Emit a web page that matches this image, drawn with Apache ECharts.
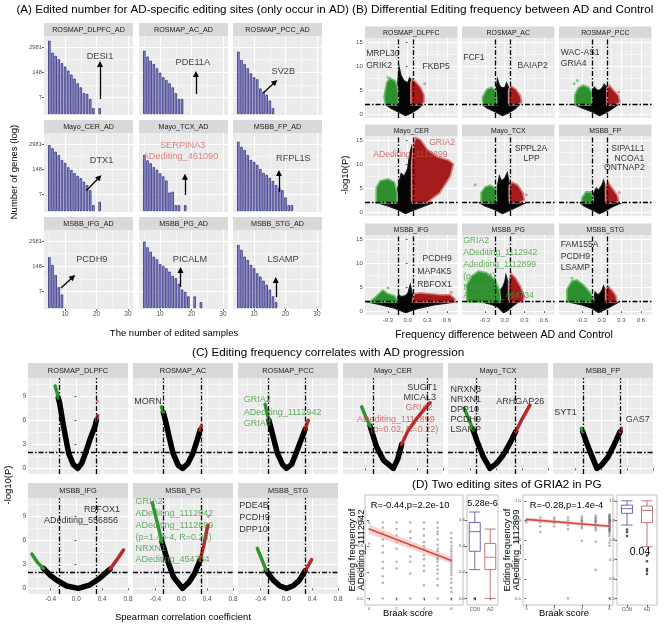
<!DOCTYPE html>
<html><head><meta charset="utf-8">
<script src="https://cdn.jsdelivr.net/npm/echarts@6/dist/echarts.min.js"></script>
<style>html,body{margin:0;padding:0;background:#fff;}#chart{width:666px;height:627px;}</style>
</head><body><div id="chart"></div>
<script>
// ======================= DATA =======================
// ---- Panel A: AD-specific editing sites, [number of edited samples, number of genes]
const aNames = ['ROSMAP_DLPFC_AD','ROSMAP_AC_AD','ROSMAP_PCC_AD','Mayo_CER_AD','Mayo_TCX_AD','MSBB_FP_AD','MSBB_IFG_AD','MSBB_PG_AD','MSBB_STG_AD'];
const aDLPFC = [[5,6300],[6,1500],[7,1030],[8,690],[9,430],[10,285],[11,177],[12,110],[13,68],[14,39],[15,24],[16,12],[17,11],[18,6],[19,2],[21,2]];
const aAC = [[5,1900],[6,940],[7,580],[8,390],[9,235],[10,138],[11,80],[12,58],[13,39],[14,24],[15,12],[16,6],[17,6]];
const aPCC = [[5,1700],[6,630],[7,390],[8,235],[9,128],[10,80],[11,63],[12,21],[13,14],[14,10],[15,5],[16,2]];
const aCER = [[5,2600],[6,1780],[7,1180],[8,790],[9,440],[10,310],[11,185],[12,135],[13,91],[14,66],[15,50],[16,33],[17,22],[18,12],[19,2],[21,3]];
const aTCX = [[5,800],[6,420],[7,300],[8,190],[9,140],[10,90],[11,62],[12,38],[13,9],[14,10],[15,2],[16,2],[18,2]];
const aFP = [[5,3900],[6,2100],[7,1450],[8,800],[9,440],[10,350],[11,245],[12,150],[13,94],[14,74],[15,52],[16,36],[17,22],[18,16],[19,12],[20,5],[21,2],[22,2]];
const aIFG = [[5,430],[6,170],[7,51],[8,12],[9,5]];
const aPG = [[5,2740],[6,1400],[7,830],[8,460],[9,335],[10,192],[11,150],[12,115],[13,77],[14,46],[15,35],[16,18],[17,9],[18,7],[19,4],[21,4],[23,2]];
const aSTG = [[5,1860],[6,1030],[7,460],[8,310],[9,170],[10,115],[11,63],[12,42],[13,26],[14,16],[15,9],[16,4],[17,2]];
const aYTicks = [7, 148, 2981];
const aXTicks = [10, 20, 30];
const aGene = ['DESI1','PDE11A','SV2B','DTX1','SERPINA3','RFPL1S','PCDH9','PICALM','LSAMP'];
const aGeneAt = [[21.1,935],[20.4,497],[19.3,156],[21.6,442],[17.2,2650],[22.5,500],[18.5,336],[19.5,336],[19.2,336]];
const aSiteLabel = ['', '', '', '', 'ADediting_461090', '', '', '', ''];
const aSiteAt = [null, null, null, null, [16.5,700], null, null, null, null];
const aArrowFrom = [[21.1,6],[21.4,11],[12.9,12.3],[16.7,11.3],[17.9,6.8],[17.9,9.7],[8.7,11],[16.5,12.4],[16.9,3.7]];
const aArrowTo = [[21.1,392],[21.4,119],[16.7,46],[20.9,56],[17.9,60],[17.9,94],[12.5,40.6],[16.5,94],[16.9,28.5]];

// ---- Panel B: volcano clouds (outlines), [frequency difference, -log10(P)]
const regionNames = ['ROSMAP_DLPFC','ROSMAP_AC','ROSMAP_PCC','Mayo_CER','Mayo_TCX','MSBB_FP','MSBB_IFG','MSBB_PG','MSBB_STG'];
const bGreenDLPFC = [[-0.34,1.9],[-0.36,3.5],[-0.32,6.6],[-0.27,7.5],[-0.19,6.9],[-0.155,5.6],[-0.14,3.5],[-0.15,1.9]];
const bBlackDLPFC = [[-0.03,-0.3],[-0.15,0.5],[-0.25,1.2],[-0.33,1.9],[-0.15,2.2],[-0.15,6.5],[-0.13,9.8],[-0.1,8.0],[-0.06,7.0],[0.0,6.5],[0.03,7.5],[0.06,7.0],[0.05,3.0],[0.12,2.2],[0.22,1.9],[0.15,1.0],[0.05,0.2]];
const bRedDLPFC = [[0.05,1.9],[0.05,6.5],[0.07,7.3],[0.13,6.6],[0.2,5.5],[0.25,4.0],[0.25,2.5],[0.2,1.9]];
const bGreenAC = [[-0.33,1.9],[-0.34,3.5],[-0.27,5.2],[-0.2,5.6],[-0.13,4.8],[-0.12,1.9]];
const bBlackAC = [[-0.03,-0.3],[-0.15,0.5],[-0.27,1.3],[-0.33,1.9],[-0.13,2.3],[-0.13,5.0],[-0.11,7.3],[-0.08,6.0],[-0.05,5.5],[0.0,5.5],[0.03,6.5],[0.06,5.5],[0.07,3.0],[0.14,2.2],[0.22,1.9],[0.15,1.0],[0.05,0.2]];
const bRedAC = [[0.06,1.9],[0.06,5.0],[0.1,5.8],[0.17,5.2],[0.24,3.8],[0.26,2.5],[0.2,1.9]];
const bGreenPCC = [[-0.41,1.9],[-0.41,4.0],[-0.36,5.4],[-0.28,6.0],[-0.2,5.6],[-0.15,4.5],[-0.15,1.9]];
const bBlackPCC = [[-0.03,-0.3],[-0.15,0.5],[-0.3,1.3],[-0.4,1.9],[-0.15,2.3],[-0.14,5.0],[-0.11,5.6],[-0.07,5.0],[-0.03,5.0],[0.0,5.3],[0.04,6.2],[0.08,5.6],[0.08,3.0],[0.14,2.2],[0.24,1.9],[0.15,1.0],[0.05,0.2]];
const bRedPCC = [[0.08,1.9],[0.08,5.4],[0.12,6.0],[0.18,5.0],[0.26,3.8],[0.28,2.5],[0.2,1.9]];
const bGreenCER = [[-0.48,1.9],[-0.48,5.0],[-0.42,6.5],[-0.3,6.9],[-0.2,6.2],[-0.16,4.0],[-0.16,1.9]];
const bBlackCER = [[-0.03,-0.3],[-0.15,0.5],[-0.3,1.3],[-0.45,1.9],[-0.16,2.3],[-0.15,5.0],[-0.1,8.0],[-0.05,7.5],[0.0,9.0],[0.03,12.0],[0.06,13.5],[0.07,10.0],[0.06,2.5],[0.15,2.1],[0.35,1.8],[0.2,1.0],[0.05,0.2]];
const bRedCER = [[0.06,1.9],[0.06,10.0],[0.09,14.0],[0.12,15.5],[0.2,15.0],[0.3,13.0],[0.45,11.5],[0.62,10.8],[0.7,10.0],[0.65,7.4],[0.49,4.0],[0.29,1.9]];
const bGreenTCX = [[-0.36,1.9],[-0.36,4.0],[-0.3,5.2],[-0.22,5.6],[-0.14,5.0],[-0.12,1.9]];
const bBlackTCX = [[-0.03,-0.3],[-0.15,0.5],[-0.3,1.3],[-0.38,1.9],[-0.12,2.3],[-0.11,5.5],[-0.08,7.5],[-0.05,6.5],[0.0,7.0],[0.04,8.2],[0.07,6.0],[0.07,3.0],[0.15,2.1],[0.3,1.8],[0.18,1.0],[0.05,0.2]];
const bRedTCX = [[0.07,1.9],[0.07,5.5],[0.12,6.2],[0.2,5.6],[0.28,4.0],[0.3,2.5],[0.22,1.9]];
const bGreenFP = [[-0.3,1.9],[-0.3,3.0],[-0.24,4.2],[-0.16,4.2],[-0.13,3.0],[-0.13,1.9]];
const bBlackFP = [[-0.03,-0.3],[-0.15,0.5],[-0.27,1.3],[-0.32,1.9],[-0.13,2.3],[-0.12,4.0],[-0.08,5.0],[-0.05,4.5],[0.0,5.5],[0.03,6.6],[0.06,5.0],[0.07,2.5],[0.15,2.1],[0.28,1.8],[0.15,1.0],[0.05,0.2]];
const bRedFP = [[0.06,1.9],[0.06,5.5],[0.1,6.2],[0.16,5.0],[0.24,3.5],[0.26,2.3],[0.2,1.9]];
const bGreenIFG = [[-0.58,1.9],[-0.5,2.8],[-0.38,4.4],[-0.3,3.6],[-0.2,3.2],[-0.16,2.3],[-0.16,1.9]];
const bBlackIFG = [[-0.03,-0.3],[-0.2,0.6],[-0.4,1.3],[-0.6,1.9],[-0.16,2.3],[-0.14,3.5],[-0.1,3.0],[-0.04,3.2],[0.0,3.6],[0.04,5.5],[0.08,3.0],[0.07,2.4],[0.3,2.2],[0.55,2.2],[0.72,1.9],[0.4,1.3],[0.15,0.5]];
const bRedIFG = [[0.07,1.9],[0.1,3.6],[0.2,3.8],[0.35,3.6],[0.5,3.4],[0.65,3.4],[0.72,2.6],[0.72,1.9]];
const bGreenPG = [[-0.58,1.9],[-0.58,5.5],[-0.5,7.3],[-0.4,8.3],[-0.28,8.0],[-0.15,6.5],[-0.08,4.5],[-0.06,1.9]];
const bBlackPG = [[-0.02,-0.3],[-0.1,0.8],[-0.2,1.4],[-0.35,1.9],[-0.07,2.3],[-0.06,4.5],[-0.03,5.0],[0.0,6.0],[0.02,7.5],[0.05,6.0],[0.06,3.0],[0.12,2.2],[0.2,1.8],[0.1,0.8],[0.03,0.0]];
const bRedPG = [[0.06,1.9],[0.06,6.0],[0.1,7.8],[0.16,7.0],[0.24,5.2],[0.3,3.2],[0.28,1.9]];
const bGreenSTG = [[-0.53,1.9],[-0.53,4.5],[-0.46,6.2],[-0.38,6.5],[-0.28,5.5],[-0.18,4.0],[-0.12,2.5],[-0.12,1.9]];
const bBlackSTG = [[-0.05,-0.3],[-0.15,0.6],[-0.3,1.3],[-0.5,1.9],[-0.12,2.3],[-0.1,4.0],[-0.07,3.5],[-0.04,3.5],[0.0,4.2],[0.03,5.2],[0.06,4.0],[0.07,2.4],[0.15,2.1],[0.25,1.8],[0.12,0.8],[0.0,0.0]];
const bRedSTG = [[0.06,1.9],[0.06,4.6],[0.1,5.2],[0.16,4.3],[0.22,3.2],[0.23,1.9]];
const bGreenDots = [[0,-0.3,7.6],[2,-0.42,6.3],[2,-0.37,7.0],[4,-0.45,5.7],[6,-0.3,4.8],[8,-0.45,6.8]];
const bRedDots = [[0,0.26,6.3],[2,0.26,4.6],[4,0.33,3.6],[5,0.27,4.1],[6,0.66,3.9]];
const bVLines = [-0.15, 0.09];
const bHLine = 2;
const bLabelsDLPFC = [['MRPL30',-0.64,12.6],['GRIK2',-0.64,10.0],['FKBP5',0.22,9.8]];
const bLabelsAC = [['FCF1',-0.64,11.8],['BAIAP2',0.19,10.0]];
const bLabelsPCC = [['WAC-AS1',-0.63,12.8],['GRIA4',-0.63,10.5]];
const bLabelsCER = [['GRIA2',0.32,14.5],['ADediting_1112899',-0.53,12.0]];
const bLabelsTCX = [['SPPL2A',0.145,13.1],['LPP',0.28,11.1]];
const bLabelsFP = [['SIPA1L1',0.14,13.1],['NCOA1',0.19,11.1],['ONTNAP2',0.03,9.3]];
const bLabelsIFG = [['PCDH9',0.22,10.8],['MAP4K5',0.14,8.2],['RBFOX1',0.14,5.6]];
const bLabelsPG = [['GRIA2',-0.64,14.6],['ADediting_1112942',-0.64,12.2],['Adediting_1112899',-0.64,9.6],['(p=0.04)',-0.64,7.2],['NRXN1',-0.64,4.9],['ADediting_454734',-0.64,3.2]];
const bLabelsSTG = [['FAM155A',-0.63,13.9],['PCDH9',-0.63,11.3],['LSAMP',-0.63,9.1]];
const bLabelColor = ['#000','#000','#000','#c9504c','#000','#000','#000','#3f9a3f','#000'];
const bXTicks = [-0.3, 0, 0.3, 0.6];
const bYTicks = [0, 5, 10, 15];

// ---- Panel C: -log10(P) against Spearman R (curve)
const cGreenDLPFC = [[-0.33,10.3],[-0.3,9.5],[-0.28,8.8]];
const cBlackDLPFC = [[-0.28,8.8],[-0.26,8.2],[-0.2,5.3],[-0.12,1.9],[-0.05,0.5],[0.02,0],[0.08,0.6],[0.14,1.9],[0.21,3.6],[0.29,5.3],[0.31,6.0]];
const cRedDLPFC = [[0.31,6.0],[0.33,6.6]];
const cGreenAC = [[-0.31,7.7],[-0.28,7.0]];
const cBlackAC = [[-0.28,7.0],[-0.25,6.1],[-0.18,3.6],[-0.13,1.9],[-0.05,0.4],[0.02,0],[0.1,0.6],[0.18,1.9],[0.24,3.4],[0.29,4.8]];
const cRedAC = [[0.29,4.8],[0.31,5.3]];
const cGreenPCC = [[-0.33,8.0],[-0.3,7.0],[-0.27,6.0]];
const cBlackPCC = [[-0.27,6.0],[-0.25,5.4],[-0.2,3.8],[-0.14,1.9],[-0.06,0.5],[0.0,0],[0.08,0.5],[0.15,1.9],[0.22,3.4],[0.29,4.9]];
const cRedPCC = [[0.29,4.9],[0.34,6.0]];
const cGreenCER = [[-0.46,7.7],[-0.4,6.5],[-0.33,5.3]];
const cBlackCER = [[-0.33,5.3],[-0.23,2.7],[-0.12,1.0],[0.03,0],[0.1,1.2],[0.16,3.0]];
const cRedCER = [[0.16,3.0],[0.25,4.6],[0.4,6.3],[0.52,7.5],[0.6,8.2]];
const cGreenTCX = [[-0.5,7.5],[-0.43,6.2],[-0.36,4.8]];
const cBlackTCX = [[-0.36,4.8],[-0.3,3.4],[-0.2,1.4],[-0.1,0],[0.0,0.6],[0.1,1.6],[0.2,3.0],[0.3,4.6]];
const cRedTCX = [[0.3,4.6],[0.4,6.2],[0.52,7.9]];
const cGreenFP = [[-0.31,5.0],[-0.29,4.6]];
const cBlackFP = [[-0.29,4.6],[-0.2,2.6],[-0.1,0.6],[-0.07,0],[0.0,0.4],[0.1,1.4],[0.2,3.0],[0.29,4.6]];
const cRedFP = [[0.29,4.6],[0.31,5.0]];
const cGreenIFG = [[-0.69,4.3],[-0.6,3.2],[-0.51,2.5]];
const cBlackIFG = [[-0.51,2.5],[-0.4,1.6],[-0.3,1.0],[-0.15,0.3],[0.03,0],[0.2,0.4],[0.35,1.2],[0.45,1.9],[0.52,2.4]];
const cRedIFG = [[0.52,2.4],[0.62,3.5],[0.73,4.8]];
const cGreenPG = [[-0.45,10.7],[-0.38,8.4],[-0.3,5.8]];
const cBlackPG = [[-0.3,5.8],[-0.22,3.6],[-0.12,1.4],[0.02,0],[0.12,0.8],[0.2,1.8],[0.29,3.5]];
const cRedPG = [[0.29,3.5],[0.35,5.5],[0.41,7.9]];
const cGreenSTG = [[-0.45,5.0],[-0.38,3.6],[-0.31,2.2]];
const cBlackSTG = [[-0.31,2.2],[-0.2,1.0],[-0.1,0.3],[0.0,0],[0.1,0.3],[0.2,1.0],[0.29,2.2]];
const cRedSTG = [[0.29,2.2],[0.35,3.0],[0.39,3.6]];
const cRedDots = [[0,0.33,8.4],[7,0.42,9.0]];
const cVLines = [[-0.27,0.31],[-0.28,0.31],[-0.28,0.3],[-0.28,0.55],[-0.31,0.29],[-0.28,0.29],[-0.27,0.31],[-0.28,0.31],[-0.28,0.3]];
const cHLine = 2;
const cLabelsDLPFC = [];
const cLabelsAC = [['MORN',-0.74,8.4,'#000']];
const cLabelsPCC = [['GRIA2',-0.67,8.6,'#3f9a3f'],['ADediting_1112942',-0.67,7.0,'#3f9a3f'],['GRIA4',-0.67,5.6,'#3f9a3f']];
const cLabelsCER = [['SUGT1',0.24,10.1,'#000'],['MICAL3',0.18,8.9,'#000']];
const cCenterLabelsCER = [['GRIA2',0.43,7.6],['ADediting_1112899',0.07,6.1],['(p=0.02, R=0.22)',0.2,4.8]];
const cLabelsTCX = [['NRXN3',-0.72,9.9,'#000'],['NRXN1',-0.72,8.6,'#000'],['DPP10',-0.72,7.4,'#000'],['PCDH9',-0.72,6.1,'#000'],['LSAMP',-0.72,4.8,'#000'],['ARHGAP26',-0.01,8.4,'#000']];
const cLabelsFP = [['SYT1',-0.74,7.0,'#000'],['GAS7',0.37,6.1,'#000']];
const cLabelsIFG = [['RBFOX1',0.11,9.9,'#000'],['ADediting_556856',-0.51,8.5,'#000']];
const cLabelsPG = [['GRIA2',-0.72,10.8,'#3f9a3f'],['ADediting_1112942',-0.72,9.3,'#3f9a3f'],['ADediting_1112899',-0.72,7.8,'#3f9a3f'],['(p=1.4e-4, R=0.28)',-0.72,6.3,'#3f9a3f'],['NRXN1',-0.72,5.0,'#3f9a3f'],['ADediting_454734',-0.72,3.6,'#3f9a3f']];
const cLabelsSTG = [['PDE4B',-0.74,10.3,'#000'],['PCDH9',-0.74,8.8,'#000'],['DPP10',-0.74,7.3,'#000']];
const cXTicks = [-0.4, 0, 0.4, 0.8];
const cYTicks = [0, 3, 6, 9];

// ---- Panel D: GRIA2 editing sites in PG, values by Braak score 0..6
const d1ByBraak = [
  [0.58,0.42],
  [0.58,0.54,0.50,0.45,0.40,0.35,0.28,0.23,0.17,0.12,0.0],
  [0.58,0.53,0.48,0.43,0.38,0.28,0.23,0.0],
  [0.58,0.51,0.46,0.40,0.32,0.28,0.19,0.0],
  [0.58,0.53,0.48,0.43,0.40,0.38,0.33,0.30,0.25,0.21,0.10,0.0],
  [0.58,0.54,0.51,0.49,0.45,0.41,0.38,0.36,0.33,0.31,0.30,0.28,0.25,0.22,0.19,0.15,0.10,0.0],
  [0.50,0.46,0.43,0.40,0.38,0.36,0.34,0.32,0.30,0.28,0.26,0.24,0.22,0.20,0.18,0.15,0.12,0.08,0.05,0.0]
];
const d1Fit = [[0,0.53],[6,0.29]];
const d1Band = [[0,0.565],[6,0.315],[6,0.265],[0,0.495]];
const d1BoxCON = [0.22,0.36,0.51,0.58,0.66];
const d1BoxAD = [0.0,0.22,0.315,0.42,0.53];
const d1OutCON = [0.0];
const d1OutAD = [];
const d2ByBraak = [
  [0.90,0.89],
  [0.915,0.90,0.89,0.87,0.84],
  [0.915,0.905,0.895,0.885,0.87],
  [0.915,0.90,0.89,0.875,0.855,0.50],
  [0.92,0.91,0.90,0.895,0.89,0.88,0.87,0.86,0.795],
  [0.925,0.915,0.91,0.90,0.895,0.89,0.88,0.87,0.86,0.85,0.79,0.646],
  [0.93,0.925,0.92,0.915,0.91,0.905,0.90,0.895,0.89,0.885,0.88,0.875,0.87,0.865,0.86,0.855,0.85,0.845,0.84,0.83,0.82,0.785,0.77,0.50]
];
const d2Fit = [[0,0.905],[6,0.87]];
const d2Band = [[0,0.915],[6,0.879],[6,0.861],[0,0.895]];
const d2BoxCON = [0.876,0.936,0.96,0.978,1.0];
const d2BoxAD = [0.765,0.888,0.951,0.973,1.0];
const d2OutCON = [0.853,0.84,0.82];
const d2OutAD = [0.72,0.69,0.65,0.64,0.625];
const boxGroups = ['CON','AD'];
const d1YTicks = [0, 0.2, 0.4, 0.6];
const d2YTicks = [0.5, 0.6, 0.7, 0.8, 0.9, 1.0];
const dXTicks = [0, 2, 4, 6];

// ======================= BUILD =======================
const FF = '"Liberation Sans", Arial, Helvetica, sans-serif';
const PANEL_BG = '#EBEBEB', STRIP_BG = '#D9D9D9';
const GREEN = '#2f8f2f', GREEN_EDGE = '#6cbf6c', RED = '#a31b1b', RED_EDGE = '#d98080';
const option = {animation: false, backgroundColor: '#fff', grid: [], xAxis: [], yAxis: [], series: [], graphic: []};

function mkAxis(gi, a, isX, major) {
  const ax = {
    gridIndex: gi, type: a.type || 'value',
    position: isX ? (major ? 'bottom' : 'top') : (major ? 'left' : 'right'),
    axisLine: {show: false},
    axisTick: {show: major && !!a.ticks, length: 2, lineStyle: {color: '#333', width: 0.8}},
    axisLabel: {show: major && !!a.labels, fontSize: a.fs || 6, color: '#4d4d4d', fontFamily: FF, margin: a.margin || 2},
    splitLine: {show: a.grid !== false, lineStyle: {color: '#ffffff', width: major ? 1 : 0.5}}
  };
  if (a.fmt) ax.axisLabel.formatter = a.fmt;
  if (ax.type === 'category') {
    ax.data = a.data;
    ax.axisTick.alignWithLabel = true;
  } else {
    ax.min = a.min; ax.max = a.max;
    ax.axisTick.customValues = major ? a.major : (a.minor || []);
    ax.axisLabel.customValues = a.major;
    if (ax.type === 'log') ax.logBase = 10;
  }
  return ax;
}
function addPanel(box, xa, ya, opts) {
  opts = opts || {};
  const gi = option.grid.length;
  option.grid.push({left: box[0], top: box[1], width: box[2], height: box[3], show: true,
    backgroundColor: opts.bg || PANEL_BG, borderWidth: opts.border ? 0.8 : 0, borderColor: opts.border || 'transparent', containLabel: false});
  const xi = option.xAxis.length, yi = option.yAxis.length;
  option.xAxis.push(mkAxis(gi, xa, true, true));
  option.yAxis.push(mkAxis(gi, ya, false, true));
  if (!opts.noMinor) {
    option.xAxis.push(mkAxis(gi, xa, true, false));
    option.yAxis.push(mkAxis(gi, ya, false, false));
  }
  return {xi: xi, yi: yi};
}
function gtext(x, y, str, fs, o) {
  o = o || {};
  option.graphic.push({type: 'text', x: x, y: y, rotation: o.rot || 0, silent: true, z: 100,
    style: {text: str, fill: o.color || '#000', fontSize: fs, fontFamily: FF, align: o.align || 'center', verticalAlign: o.va || 'middle'}});
}
function strip(x, y, w, h, str, fs) {
  option.graphic.push({type: 'rect', silent: true, z: 1, shape: {x: x, y: y, width: w, height: h}, style: {fill: STRIP_BG}});
  gtext(x + w / 2, y + h / 2 + 0.5, str, fs, {color: '#1a1a1a'});
}
function polygonSeries(ax, pts, fill, stroke, lw, z) {
  return {type: 'custom', xAxisIndex: ax.xi, yAxisIndex: ax.yi, silent: true, clip: true, z: z || 2,
    data: pts, encode: {x: 0, y: 1},
    renderItem: function (params, api) {
      if (params.dataIndex !== 0) return null;
      const p = pts.map(function (q) { return api.coord(q); });
      return {type: 'polygon', shape: {points: p}, style: {fill: fill, stroke: stroke, lineWidth: lw}};
    }};
}
function refLines(ax, xs, ys) {
  const d = xs.map(function (v) { return {xAxis: v}; }).concat(ys.map(function (v) { return {yAxis: v}; }));
  return {type: 'line', xAxisIndex: ax.xi, yAxisIndex: ax.yi, data: [], silent: true, z: 6,
    markLine: {symbol: 'none', silent: true, animation: false, label: {show: false},
      lineStyle: {color: '#000', type: [5, 2, 1.5, 2], width: 1.3}, data: d}};
}
function labelSeries(ax, items, color, fs, pos) {
  return {type: 'scatter', xAxisIndex: ax.xi, yAxisIndex: ax.yi, silent: true, z: 20, clip: false,
    symbolSize: 1, itemStyle: {color: 'rgba(0,0,0,0)'},
    data: items.map(function (l) { return {name: l[0], value: [l[1], l[2]], label: {color: l[3] || color}}; }),
    label: {show: true, position: pos || 'right', distance: 0, formatter: '{b}', color: color, fontSize: fs, fontFamily: FF}};
}
function lineSeries(ax, pts, color, w, z) {
  return {type: 'line', xAxisIndex: ax.xi, yAxisIndex: ax.yi, data: pts, showSymbol: false, silent: true, z: z || 3,
    lineStyle: {color: color, width: w, cap: 'round', join: 'round'}};
}
function dotSeries(ax, pts, color, size, z) {
  return {type: 'scatter', xAxisIndex: ax.xi, yAxisIndex: ax.yi, data: pts, symbolSize: size, silent: true, z: z || 4,
    itemStyle: {color: color}};
}
const fmt1 = function (v) { return (Math.abs(v) < 1e-9 ? 0 : v).toFixed(1); };
const fmtInt = function (v) { return String(Math.round(v)); };

// ---------- Titles ----------
gtext(16.5, 10, '(A) Edited number for AD-specific editing sites (only occur in AD)', 11.6, {align: 'left'});
gtext(352, 10, '(B) Differential Editing frequency between AD and Control', 11.8, {align: 'left'});
gtext(192, 353, '(C) Editing frequency correlates with AD progression', 11.7, {align: 'left'});
gtext(412, 485, '(D) Two editing sites of GRIA2 in PG', 11.7, {align: 'left'});

// ---------- Panel A ----------
const aData = [aDLPFC, aAC, aPCC, aCER, aTCX, aFP, aIFG, aPG, aSTG];
const aCols = [44, 139, 233], aRows = [36, 133, 230];
aData.forEach(function (bars, i) {
  const c = i % 3, r = Math.floor(i / 3);
  const box = [aCols[c], aRows[r], 89, 79];
  strip(box[0], box[1] - 13, 89, 13, aNames[i], 7.2);
  const ax = addPanel(box,
    {min: 3.3, max: 31.6, major: aXTicks, minor: [5, 15, 25], labels: r === 2, ticks: r === 2, fs: 6.5, fmt: fmtInt},
    {type: 'log', min: 0.89, max: 11070, major: aYTicks, minor: [32, 664], labels: c === 0, ticks: c === 0, fs: 5.8, fmt: fmtInt});
  option.series.push({type: 'bar', xAxisIndex: ax.xi, yAxisIndex: ax.yi, data: bars, barWidth: 2.4, silent: true, z: 3,
    itemStyle: {color: '#9a9ae0', borderColor: '#1b1b6a', borderWidth: 0.7}});
  option.series.push({type: 'line', xAxisIndex: ax.xi, yAxisIndex: ax.yi, data: [], silent: true, z: 6,
    markLine: {symbol: ['none', 'triangle'], symbolSize: 6, silent: true, animation: false, label: {show: false},
      lineStyle: {type: 'solid', color: '#000', width: 1.3}, data: [[{coord: aArrowFrom[i]}, {coord: aArrowTo[i]}]]}});
  const col = i === 4 ? '#d06a66' : '#111';
  const labs = [[aGene[i], aGeneAt[i][0], aGeneAt[i][1]]];
  if (aSiteAt[i]) labs.push([aSiteLabel[i], aSiteAt[i][0], aSiteAt[i][1]]);
  option.series.push(labelSeries(ax, labs, col, 9.2, 'inside'));
});
gtext(14, 172, 'Number of genes (log)', 9.5, {rot: Math.PI / 2});
gtext(174, 333, 'The number of edited samples', 9.5);

// ---------- Panel B ----------
const bGreen = [bGreenDLPFC, bGreenAC, bGreenPCC, bGreenCER, bGreenTCX, bGreenFP, bGreenIFG, bGreenPG, bGreenSTG];
const bBlack = [bBlackDLPFC, bBlackAC, bBlackPCC, bBlackCER, bBlackTCX, bBlackFP, bBlackIFG, bBlackPG, bBlackSTG];
const bRed = [bRedDLPFC, bRedAC, bRedPCC, bRedCER, bRedTCX, bRedFP, bRedIFG, bRedPG, bRedSTG];
const bLabels = [bLabelsDLPFC, bLabelsAC, bLabelsPCC, bLabelsCER, bLabelsTCX, bLabelsFP, bLabelsIFG, bLabelsPG, bLabelsSTG];
const bCols = [365, 462, 559], bRows = [38, 136, 235];
for (let i = 0; i < 9; i++) {
  const c = i % 3, r = Math.floor(i / 3);
  const box = [bCols[c], bRows[r], 92.5, 80];
  strip(box[0], box[1] - 11.5, 92.5, 11.5, regionNames[i], 6.9);
  const ax = addPanel(box,
    {min: -0.65, max: 0.76, major: bXTicks, minor: [-0.45, -0.15, 0.15, 0.45], labels: r === 2, ticks: r === 2, fs: 6, fmt: fmt1},
    {min: -0.8, max: 15.8, major: bYTicks, minor: [2.5, 7.5, 12.5], labels: c === 0, ticks: c === 0, fs: 6.2, fmt: fmtInt});
  option.series.push(polygonSeries(ax, bBlack[i], '#050505', '#1a1a1a', 1.2, 2));
  option.series.push(polygonSeries(ax, bGreen[i], GREEN, GREEN_EDGE, 1.6, 3));
  option.series.push(polygonSeries(ax, bRed[i], RED, RED_EDGE, 1.6, 3));
  const gd = bGreenDots.filter(function (d) { return d[0] === i; }).map(function (d) { return [d[1], d[2]]; });
  const rd = bRedDots.filter(function (d) { return d[0] === i; }).map(function (d) { return [d[1], d[2]]; });
  if (gd.length) option.series.push(dotSeries(ax, gd, GREEN_EDGE, 3));
  if (rd.length) option.series.push(dotSeries(ax, rd, RED_EDGE, 3));
  option.series.push(refLines(ax, bVLines, [bHLine]));
  option.series.push(labelSeries(ax, bLabels[i], bLabelColor[i], 8.6, 'right'));
}
gtext(345, 175, '-log10(P)', 9.5, {rot: Math.PI / 2});
gtext(504, 335, 'Frequency difference between AD and Control', 10.6);

// ---------- Panel C ----------
const cGreen = [cGreenDLPFC, cGreenAC, cGreenPCC, cGreenCER, cGreenTCX, cGreenFP, cGreenIFG, cGreenPG, cGreenSTG];
const cBlack = [cBlackDLPFC, cBlackAC, cBlackPCC, cBlackCER, cBlackTCX, cBlackFP, cBlackIFG, cBlackPG, cBlackSTG];
const cRed = [cRedDLPFC, cRedAC, cRedPCC, cRedCER, cRedTCX, cRedFP, cRedIFG, cRedPG, cRedSTG];
const cLabels = [cLabelsDLPFC, cLabelsAC, cLabelsPCC, cLabelsCER, cLabelsTCX, cLabelsFP, cLabelsIFG, cLabelsPG, cLabelsSTG];
const cBoxes = [[28,378],[133,378],[238,378],[343,378],[448,378],[553,378],[28,498],[133,498],[238,498]];
for (let i = 0; i < 9; i++) {
  const box = [cBoxes[i][0], cBoxes[i][1], 100, 96];
  const bottomRow = i >= 6, leftCol = (i === 0 || i === 6);
  strip(box[0], box[1] - 15, 100, 15, regionNames[i], 7.4);
  const ax = addPanel(box,
    {min: -0.75, max: 0.8, major: cXTicks, minor: [-0.6, -0.2, 0.2, 0.6], labels: bottomRow, ticks: bottomRow || i >= 3, fs: 6.5, fmt: fmt1},
    {min: -0.7, max: 11.3, major: cYTicks, minor: [1.5, 4.5, 7.5, 10.5], labels: leftCol, ticks: leftCol, fs: 6.5, fmt: fmtInt});
  option.series.push(lineSeries(ax, cBlack[i], '#000', 5.5, 3));
  option.series.push(lineSeries(ax, cGreen[i], '#2f962f', 3.5, 4));
  option.series.push(lineSeries(ax, cRed[i], '#b52a2a', 3.5, 4));
  const rd = cRedDots.filter(function (d) { return d[0] === i; }).map(function (d) { return [d[1], d[2]]; });
  if (rd.length) option.series.push(dotSeries(ax, rd, '#d77b7b', 3));
  option.series.push(refLines(ax, cVLines[i], [cHLine]));
  if (cLabels[i].length) option.series.push(labelSeries(ax, cLabels[i], '#000', 9, 'right'));
  if (i === 3) option.series.push(labelSeries(ax, cCenterLabelsCER, '#c9504c', 9, 'inside'));
}
gtext(8, 485, '-log10(P)', 9.5, {rot: Math.PI / 2});
gtext(183, 617, 'Spearman correlation coefficient', 9.5);

// ---------- Panel D ----------
function braakPoints(byBraak) {
  const out = [];
  byBraak.forEach(function (vals, b) { vals.forEach(function (v) { out.push([b, v]); }); });
  return out;
}
function boxPanel(box, con, ad, outCon, outAd, yr, ticks) {
  const ax = addPanel(box,
    {type: 'category', data: boxGroups, labels: true, ticks: true, fs: 4.5, grid: false},
    {min: yr[0], max: yr[1], major: ticks, labels: true, ticks: true, fs: 4.3, grid: false, fmt: fmt1},
    {bg: '#fff', border: '#b3b3b3', noMinor: true});
  option.series.push({type: 'boxplot', xAxisIndex: ax.xi, yAxisIndex: ax.yi, silent: true, z: 3, boxWidth: [11, 11],
    itemStyle: {color: '#fff', borderWidth: 0.9},
    data: [{value: con, itemStyle: {borderColor: '#5d5daa'}}, {value: ad, itemStyle: {borderColor: '#b86a6a'}}]});
  const outs = outCon.map(function (v) { return [0, v]; }).concat(outAd.map(function (v) { return [1, v]; }));
  if (outs.length) option.series.push(dotSeries(ax, outs, '#222', 2.6));
}
function scatterPanel(box, byBraak, fit, band, xr, yr, ticks) {
  const ax = addPanel(box,
    {min: xr[0], max: xr[1], major: dXTicks, labels: true, ticks: true, fs: 4.3, grid: false, fmt: fmtInt},
    {min: yr[0], max: yr[1], major: ticks, labels: true, ticks: true, fs: 4.3, grid: false, fmt: fmt1},
    {bg: '#fff', border: '#b3b3b3', noMinor: true});
  option.series.push(dotSeries(ax, braakPoints(byBraak), 'rgba(70,70,70,0.5)', 2.6, 3));
  option.series.push(polygonSeries(ax, band, 'rgba(240,175,165,0.55)', 'none', 0, 4));
  option.series.push(lineSeries(ax, fit, '#cf4b48', 1.6, 5));
}
scatterPanel([365, 495, 98, 110], d1ByBraak, d1Fit, d1Band, [-0.3, 6.85], [-0.05, 0.79], d1YTicks);
boxPanel([467, 495, 31, 110], d1BoxCON, d1BoxAD, d1OutCON, d1OutAD, [-0.05, 0.79], d1YTicks);
scatterPanel([523, 495, 90, 110], d2ByBraak, d2Fit, d2Band, [-0.25, 6.25], [0.466, 1.03], d2YTicks);
boxPanel([617, 495, 40, 110], d2BoxCON, d2BoxAD, d2OutCON, d2OutAD, [0.466, 1.03], d2YTicks);
gtext(410, 505, 'R=-0.44,p=2.2e-10', 9.4);
gtext(482.5, 503.5, '5.28e-6', 9);
gtext(566.5, 505, 'R=-0.28,p=1.4e-4', 9.4);
gtext(640, 552, '0.04', 10.5);
gtext(352.5, 550, 'Editing frequency of', 9.4, {rot: Math.PI / 2});
gtext(361.5, 550, 'ADediting_1112942', 9.4, {rot: Math.PI / 2});
gtext(507, 550, 'Editing frequency of', 9.4, {rot: Math.PI / 2});
gtext(516, 550, 'ADediting_1112899', 9.4, {rot: Math.PI / 2});
gtext(408, 613, 'Braak score', 9.4);
gtext(564, 613, 'Braak score', 9.4);

const chart = echarts.init(document.getElementById('chart'), null, {renderer: 'canvas'});
chart.setOption(option);
</script></body></html>
